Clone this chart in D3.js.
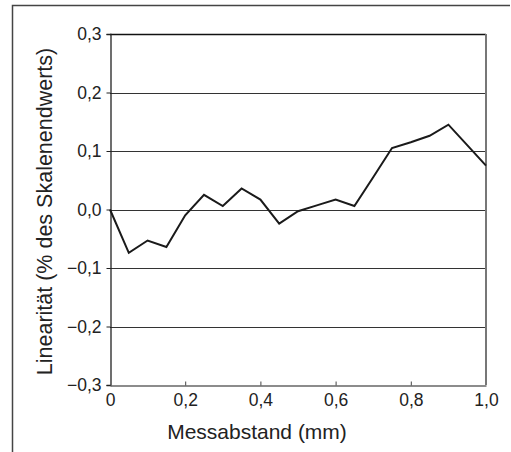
<!DOCTYPE html>
<html><head><meta charset="utf-8">
<script src="https://cdn.jsdelivr.net/npm/d3@7"></script>
<style>body{margin:0;background:#fff}svg{display:block}text{font-family:"Liberation Sans",Arial,Helvetica,sans-serif;fill:#222}</style>
</head><body>
<script>
const xValues = [0,0.05,0.1,0.15,0.2,0.25,0.3,0.35,0.4,0.45,0.5,0.55,0.6,0.65,0.7,0.75,0.8,0.85,0.9,0.95,1.0];
const linearity = [0.0,-0.074,-0.053,-0.064,-0.01,0.025,0.006,0.036,0.017,-0.024,-0.003,0.007,0.017,0.006,0.055,0.105,0.115,0.126,0.145,0.11,0.075];
const xTicks = [0,0.2,0.4,0.6,0.8,1.0];
const xTickLabels = ["0","0,2","0,4","0,6","0,8","1,0"];
const yTicks = [-0.3,-0.2,-0.1,0,0.1,0.2,0.3];
const yTickLabels = ["\u22120,3","\u22120,2","\u22120,1","0,0","0,1","0,2","0,3"];
const xTitle = "Messabstand (mm)";
const yTitle = "Linearität (% des Skalenendwerts)";

const W=511,H=452;
const svg=d3.select("body").append("svg").attr("width",W).attr("height",H);
const L=110,R=486,T=34,B=385;
const x=d3.scaleLinear().domain([0,1]).range([L,R]);
const y=d3.scaleLinear().domain([-0.3,0.3]).range([B,T]);

// outer frame (clipped)
svg.append("path").attr("d",`M12.5,${H}V5.5H510`).attr("fill","none").attr("stroke","#444").attr("stroke-width",1.5);

// gridlines
svg.append("g").selectAll("line").data(yTicks.filter(v=>v>-0.3&&v<0.3)).join("line")
  .attr("x1",L).attr("x2",R).attr("y1",d=>Math.round(y(d))+0.5).attr("y2",d=>Math.round(y(d))+0.5)
  .attr("stroke","#333").attr("stroke-width",1.2);
// top border
svg.append("line").attr("x1",L).attr("x2",R).attr("y1",T+0.5).attr("y2",T+0.5).attr("stroke","#111").attr("stroke-width",1.3);
// right border
svg.append("line").attr("x1",R).attr("x2",R).attr("y1",T).attr("y2",B).attr("stroke","#777").attr("stroke-width",2);

// y axis
const yAxis=d3.axisLeft(y).tickValues(yTicks).tickFormat((d,i)=>yTickLabels[i]).tickSize(4).tickPadding(5);
const gy=svg.append("g").attr("transform",`translate(${L+0.5},0)`).call(yAxis);
gy.select(".domain").attr("stroke","#222").attr("stroke-width",1.3);
gy.selectAll(".tick line").attr("stroke","#222");
gy.selectAll("text").style("font-size","17.5px").attr("fill","#222");

// x axis
const xAxis=d3.axisBottom(x).tickValues(xTicks).tickFormat((d,i)=>xTickLabels[i]).tickSize(0).tickPadding(8);
const gx=svg.append("g").attr("transform",`translate(0,${B+0.5})`).call(xAxis);
gx.select(".domain").attr("stroke","#666").attr("stroke-width",1.5);
gx.selectAll("text").style("font-size","17.5px").attr("fill","#222").attr("dy","0.71em");
gx.selectAll(".tick").filter(d=>d>0&&d<1).append("line").attr("y1",0).attr("y2",-4).attr("stroke","#444");

// data line
svg.append("path").datum(xValues.map((v,i)=>[v,linearity[i]]))
  .attr("d",d3.line().x(d=>x(d[0])).y(d=>y(d[1])))
  .attr("fill","none").attr("stroke","#1a1a1a").attr("stroke-width",2).attr("stroke-linejoin","miter");

// titles
svg.append("text").attr("x",257).attr("y",439).attr("text-anchor","middle").style("font-size","21px").text(xTitle);
svg.append("text").attr("transform",`translate(52,${(T+B)/2+2}) rotate(-90)`).attr("text-anchor","middle").style("font-size","21.5px").text(yTitle);
</script>
</body></html>
